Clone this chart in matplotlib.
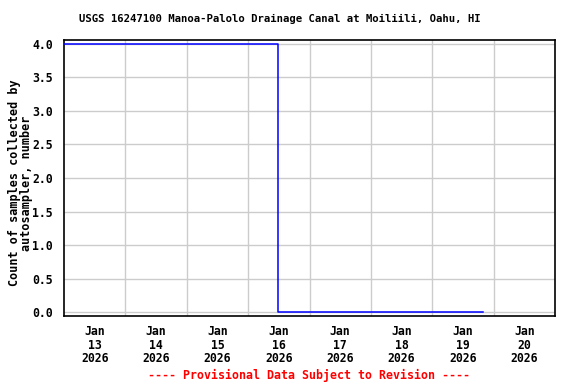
import numpy as np
import pandas as pd
import matplotlib
matplotlib.use('Agg')
import matplotlib.pyplot as plt
import matplotlib.dates as mdates

# Data
times = pd.to_datetime(['2026-01-13 00:00', '2026-01-16 11:30', '2026-01-19 20:00'])
counts = [4.0, 0.0, 0.0]

day_labels = ['Jan\n13\n2026', 'Jan\n14\n2026', 'Jan\n15\n2026', 'Jan\n16\n2026',
              'Jan\n17\n2026', 'Jan\n18\n2026', 'Jan\n19\n2026', 'Jan\n20\n2026']
label_pos = pd.date_range('2026-01-13 12:00', periods=8, freq='D')
grid_pos = pd.date_range('2026-01-14', periods=7, freq='D')
y_ticks = [0.0, 0.5, 1.0, 1.5, 2.0, 2.5, 3.0, 3.5, 4.0]

title = 'USGS 16247100 Manoa-Palolo Drainage Canal at Moiliili, Oahu, HI'
ylabel = 'Count of samples collected by\nautosampler, number'
footer = '---- Provisional Data Subject to Revision ----'

plt.rcParams['font.family'] = 'DejaVu Sans Mono'
plt.rcParams['font.weight'] = 'bold'

fig = plt.figure(figsize=(5.76, 3.84), dpi=100)
ax = fig.add_axes([64 / 576, 1 - 315.7 / 384, (555 - 64) / 576, (315.7 - 39.5) / 384])

ax.plot(times, counts, drawstyle='steps-post', color='#0000ff', linewidth=1.1, zorder=3)

ax.set_xlim(pd.Timestamp('2026-01-13'), pd.Timestamp('2026-01-21'))
ax.set_ylim(-0.05, 4.06)

ax.set_xticks(label_pos)
ax.set_xticklabels(day_labels, fontsize=8.3, fontweight='bold', linespacing=1.05)
ax.set_xticks(grid_pos, minor=True)
ax.set_yticks(y_ticks)
ax.set_yticklabels(['%.1f' % v for v in y_ticks], fontsize=8.3, fontweight='bold')
ax.tick_params(axis='both', which='both', length=0)
ax.tick_params(axis='x', pad=7)
ax.tick_params(axis='y', pad=8)

ax.grid(True, axis='x', which='minor', color='#cccccc', linewidth=1)
ax.grid(True, axis='y', which='major', color='#cccccc', linewidth=1)
ax.grid(False, axis='x', which='major')
ax.set_axisbelow(True)
for s in ax.spines.values():
    s.set_linewidth(1.2)

ax.set_ylabel(ylabel, fontsize=8.5, fontweight='bold', linespacing=0.9)
ax.yaxis.set_label_coords(-0.064, 0.48)

fig.text(280 / 576, 1 - 19 / 384, title, ha='center', va='center', fontsize=7.7, fontweight='bold')
fig.text(309 / 576, 1 - 375 / 384, footer, ha='center', va='center', fontsize=8.4,
         fontweight='bold', color='red')

fig.savefig('out.png', dpi=100)
